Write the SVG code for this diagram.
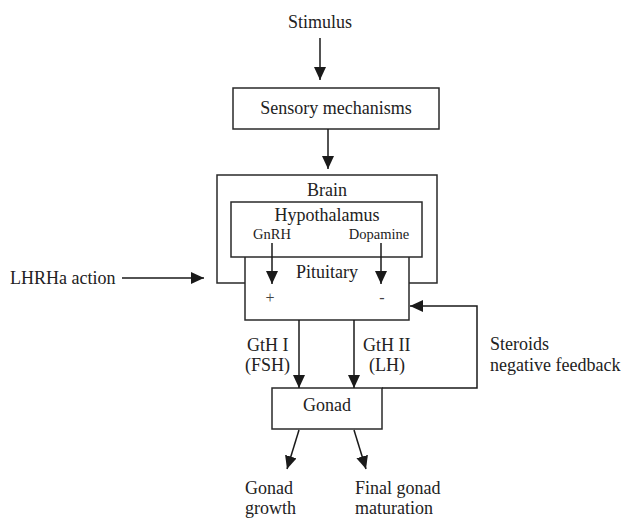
<svg xmlns="http://www.w3.org/2000/svg" width="622" height="519" viewBox="0 0 622 519">
<defs>
<marker id="ah" markerUnits="userSpaceOnUse" markerWidth="16" markerHeight="14" refX="13" refY="6" orient="auto">
<path d="M0,0 L13,6 L0,12 Z" fill="#1a1a1a"/>
</marker>
<style>
.box{fill:#fff;stroke:#2a2a2a;stroke-width:1.5}
.ln{fill:none;stroke:#1a1a1a;stroke-width:1.5}
.ar{fill:none;stroke:#1a1a1a;stroke-width:1.5;marker-end:url(#ah)}
text{font-family:"Liberation Serif","Times New Roman",serif;font-size:18px;fill:#222}
.c{text-anchor:middle}
.s{font-size:14.5px}
.pm{font-size:16px;fill:#444444}
</style>
</defs>
<rect width="622" height="519" fill="#fff"/>
<g id="stimulus"><text x="320" y="28" class="c">Stimulus</text></g>
<g id="sensory"><rect class="box" x="233" y="88" width="206" height="41"/><text x="336" y="114" class="c">Sensory mechanisms</text></g>
<g id="brain"><path class="box" style="fill:none" d="M245,283 H217 V175 H437 V283 H409"/><text x="327" y="196" class="c">Brain</text></g>
<g id="pituitary"><path class="box" d="M245,257 V320 H409 V257"/><text x="327" y="278" class="c">Pituitary</text><text x="270" y="303" class="c pm">+</text><text x="382" y="303" class="c pm">-</text></g>
<g id="hypothalamus"><rect class="box" x="231" y="202" width="191" height="55"/><text x="327" y="221" class="c">Hypothalamus</text><text x="272" y="239" class="c s">GnRH</text><text x="379" y="239" class="c s">Dopamine</text></g>
<g id="gonad"><rect class="box" x="272" y="388" width="110" height="41"/><text x="327" y="411" class="c">Gonad</text></g>
<g id="lhrha"><text x="10" y="284">LHRHa action</text></g>
<g id="labels">
<text x="247" y="351">GtH I</text><text x="245" y="371">(FSH)</text>
<text x="363" y="351">GtH II</text><text x="369" y="371">(LH)</text>
<text x="490" y="350">Steroids</text><text x="490" y="371">negative feedback</text>
</g>
<g id="gonad-growth"><text x="245" y="494">Gonad</text><text x="245" y="514">growth</text></g>
<g id="final-maturation"><text x="355" y="494">Final gonad</text><text x="355" y="514">maturation</text></g>
<g id="connectors">
<line class="ar" x1="320" y1="38" x2="320" y2="80"/>
<line class="ar" x1="328" y1="129" x2="328" y2="169"/>
<line class="ar" x1="272" y1="243" x2="272" y2="284"/>
<line class="ar" x1="381" y1="243" x2="381" y2="284"/>
<line class="ar" x1="122" y1="278" x2="204" y2="278"/>
<line class="ar" x1="299" y1="320" x2="299" y2="388"/>
<line class="ar" x1="354" y1="320" x2="354" y2="388"/>
<path class="ar" d="M382,388 H477 V306 H410"/>
<line class="ar" x1="299" y1="430" x2="287" y2="469"/>
<line class="ar" x1="354" y1="430" x2="366" y2="469"/>
</g>
</svg>
